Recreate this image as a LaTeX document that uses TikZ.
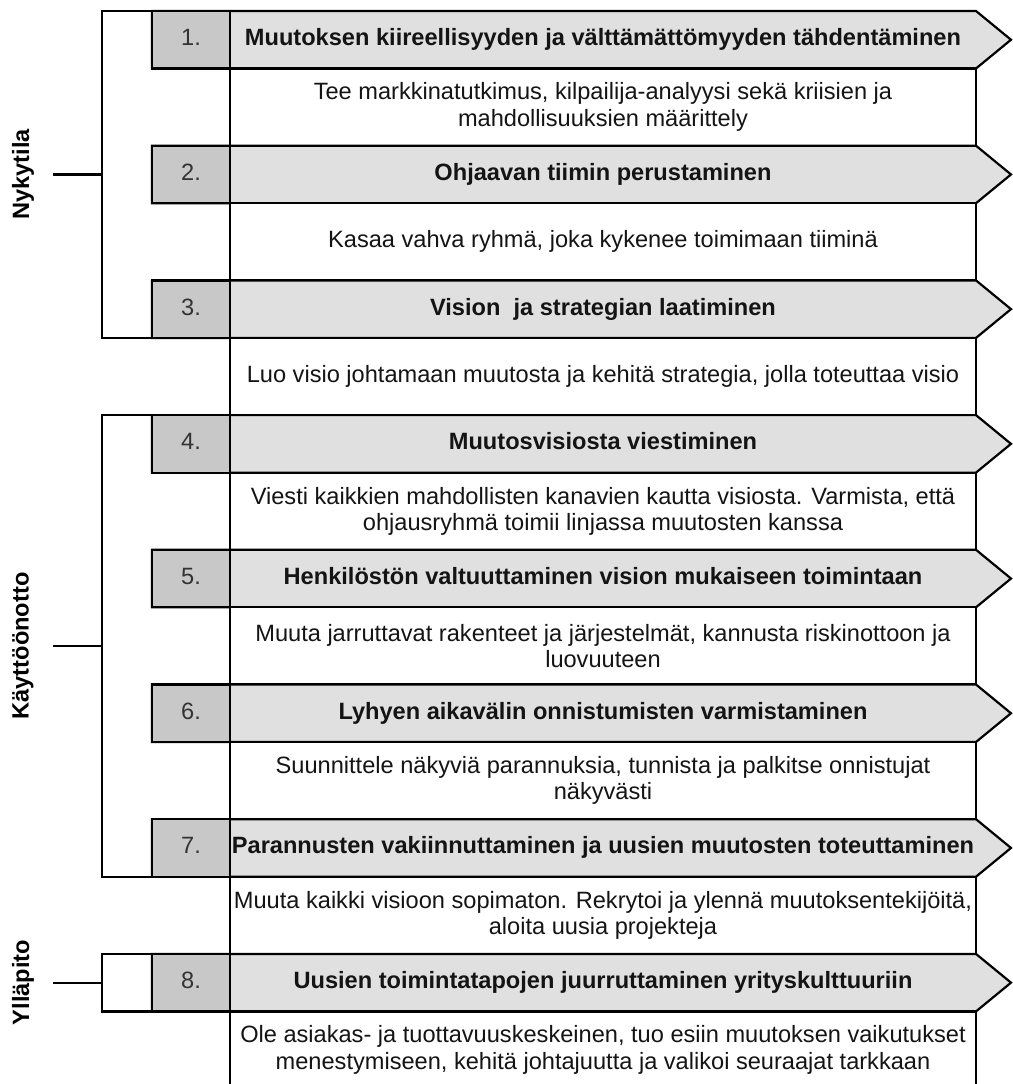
\documentclass[tikz,border=0pt]{standalone}
\usepackage{fontspec}
\setmainfont{Liberation Sans}
\definecolor{numgray}{HTML}{C8C8C8}
\definecolor{hdrgray}{HTML}{E0E0E0}
\definecolor{txtdark}{HTML}{141414}
\definecolor{numtxt}{HTML}{333333}
\tikzset{
  frame/.style={draw=black, line width=2.2pt},
  hdrshape/.style={frame, fill=hdrgray, line join=miter},
  numshape/.style={frame, fill=numgray},
  bodyshape/.style={frame, fill=white},
  titletext/.style={font=\bfseries\fontsize{23.6}{26.5}\selectfont, text=txtdark, inner sep=0pt, text height=16.5pt, text depth=4.5pt},
  numtext/.style={font=\fontsize{23.6}{26.5}\selectfont, text=numtxt, inner sep=0pt, text height=16.5pt, text depth=4.5pt},
  bodytext/.style={font=\fontsize{23.6}{26.5}\selectfont, text=txtdark, align=center, inner sep=0pt},
  phaselabel/.style={font=\bfseries\fontsize{23.6}{26.5}\selectfont, text=black, rotate=90, inner sep=0pt},
}
% #1 number, #2 header top, #3 title, #4 body text, #5 body bottom
\newcommand\kotterrow[5]{%
  \path[hdrshape] (152,#2) -- (976,#2) -- (1011,{#2+28.75}) -- (976,{#2+57.5}) -- (152,{#2+57.5}) -- cycle;
  \path[numshape] (152,#2) rectangle (230,{#2+57.5});
  \node[numtext] (num#1) at (191,{#2+28.75}) {#1.};
  \node[titletext] (title#1) at (603,{#2+28.75}) {#3};
  \path[bodyshape] (230,{#2+57.5}) rectangle (976,#5);
  \node[bodytext] (body#1) at (603,{(#2+57.5+#5)/2}) {#4};
}
\begin{document}
\begin{tikzpicture}[x=1pt,y=-1pt]
\useasboundingbox (0,0) rectangle (1012,1084);
\fill[white] (0,0) rectangle (1012,1084);
% phase brackets
\draw[frame] (152,11) -- (102,11) -- (102,337.9) -- (152,337.9);
\draw[frame] (152,415.1) -- (102,415.1) -- (102,876.7) -- (152,876.7);
\draw[frame] (152,953.9) -- (102,953.9) -- (102,1011.4) -- (152,1011.4);
\coordinate (t1a) at (53,174.5);
\coordinate (t1b) at (102,174.5);
\coordinate (t2a) at (53,645.9);
\coordinate (t2b) at (102,645.9);
\coordinate (t3a) at (53,982.6);
\coordinate (t3b) at (102,982.6);
\draw[frame] (t1a) -- (t1b);
\draw[frame] (t2a) -- (t2b);
\draw[frame] (t3a) -- (t3b);
\node[phaselabel] (phase1) at (23,174.5) {Nykytila};
\node[phaselabel] (phase2) at (23,645.9) {Käyttöönotto};
\node[phaselabel] (phase3) at (23,982.6) {Ylläpito};
% rows
\kotterrow{1}{11}{Muutoksen kiireellisyyden ja välttämättömyyden tähdentäminen}{Tee markkinatutkimus, kilpailija-analyysi sekä kriisien ja\\mahdollisuuksien määrittely}{145.7}
\kotterrow{2}{145.7}{Ohjaavan tiimin perustaminen}{Kasaa vahva ryhmä, joka kykenee toimimaan tiiminä}{280.4}
\kotterrow{3}{280.4}{Vision\ \ ja strategian laatiminen}{Luo visio johtamaan muutosta ja kehitä strategia, jolla toteuttaa visio}{415.1}
\kotterrow{4}{415.1}{Muutosvisiosta viestiminen}{Viesti kaikkien mahdollisten kanavien kautta visiosta. Varmista, että\\ohjausryhmä toimii linjassa muutosten kanssa}{549.8}
\kotterrow{5}{549.8}{Henkilöstön valtuuttaminen vision mukaiseen toimintaan}{Muuta jarruttavat rakenteet ja järjestelmät, kannusta riskinottoon ja\\luovuuteen}{684.5}
\kotterrow{6}{684.5}{Lyhyen aikavälin onnistumisten varmistaminen}{Suunnittele näkyviä parannuksia, tunnista ja palkitse onnistujat\\näkyvästi}{819.2}
\kotterrow{7}{819.2}{Parannusten vakiinnuttaminen ja uusien muutosten toteuttaminen}{Muuta kaikki visioon sopimaton. Rekrytoi ja ylennä muutoksentekijöitä,\\aloita uusia projekteja}{953.9}
\kotterrow{8}{953.9}{Uusien toimintatapojen juurruttaminen yrityskulttuuriin}{Ole asiakas- ja tuottavuuskeskeinen, tuo esiin muutoksen vaikutukset\\menestymiseen, kehitä johtajuutta ja valikoi seuraajat tarkkaan}{1088.6}
% main spine
\coordinate (spinetop) at (230,11);
\coordinate (spinebot) at (230,1090);
\draw[frame] (spinetop) -- (spinebot);
\end{tikzpicture}
\end{document}
